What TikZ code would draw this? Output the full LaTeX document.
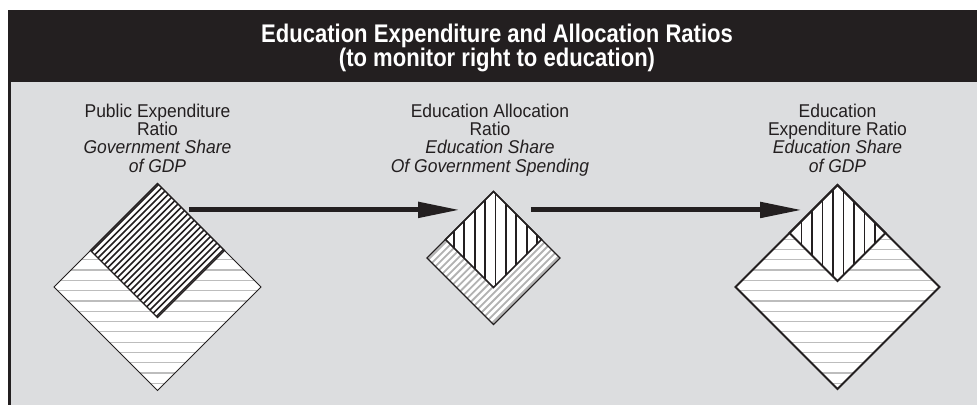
\documentclass[tikz,border=0pt]{standalone}
\usepackage{fontspec}
\setmainfont{Liberation Sans}
\newfontfamily\titlefont[FakeStretch=0.865]{Liberation Sans}
\newfontfamily\labelfont[FakeStretch=0.945]{Liberation Sans}
\usetikzlibrary{shapes.geometric, arrows.meta}
\definecolor{ink}{HTML}{231F20}
\definecolor{panel}{HTML}{DCDDDF}
\definecolor{hatchgrey}{HTML}{BDBDBD}
\definecolor{slantgrey}{HTML}{B2B2B2}

\begin{document}
\begin{tikzpicture}[x=1pt, y=-1pt,
        dia/.style={diamond, aspect=1, fill=white, inner sep=0pt, outer sep=0pt},
        heading/.style={text=white, align=center, anchor=north, inner sep=0pt,
            font=\titlefont\bfseries\fontsize{25.5pt}{24pt}\selectfont},
        ratio/.style={text=ink, align=center, anchor=north, inner sep=0pt,
            font=\labelfont\fontsize{18.5pt}{18.3pt}\selectfont},
        flow/.style={draw=ink, line width=5pt, -{Triangle[length=42pt, width=15pt]}},
        rule/.style={hatchgrey, line width=1.2pt},
        slant/.style={slantgrey, line width=1.8pt},
        stripe/.style={ink, line width=1.7pt}]
    \useasboundingbox (0,0) rectangle (977,405);

    % panel and title bar
    \fill[panel] (8,82) rectangle (977,405);
    \fill[ink] (8,10) rectangle (977,82);
    \draw[ink, line width=3pt] (9.5,82) -- (9.5,405);
    \node[heading] (title) at (497,23.6) {Education Expenditure and Allocation Ratios\\(to monitor right to education)};

    \node[ratio] (pubtext)   at (157.5,103.5) {Public Expenditure\\Ratio\\\textit{Government Share}\\\textit{of GDP}};
    \node[ratio] (alloctext) at (490,103.5)   {Education Allocation\\Ratio\\\textit{Education Share}\\\textit{Of Government Spending}};
    \node[ratio] (edutext)   at (837.5,103.5) {Education\\Expenditure Ratio\\\textit{Education Share}\\\textit{of GDP}};

    % public expenditure ratio
    \node[dia, minimum size=207pt] (pubout) at (157.5,287) {};
    \begin{scope}
        \clip (pubout.north) -- (pubout.east) -- (pubout.south) -- (pubout.west) -- cycle;
        \foreach \k in {0,...,15}
            \draw[rule] ([shift={(0,{10.3*\k-47.9})}]pubout.west) -- ++(207,0);
    \end{scope}
    \node[dia, minimum size=134pt] (pubin) at (157.5,250.5) {};
    \begin{scope}
        \clip (pubin.north) -- (pubin.east) -- (pubin.south) -- (pubin.west) -- cycle;
        \foreach \k in {-11,...,11}
            \draw[stripe] ([shift={({3.25*\k-60},{3.25*\k+60})}]pubin.center) -- ++(120,-120);
    \end{scope}
    \draw[ink, line width=1pt] (pubout.north) -- (pubout.east) -- (pubout.south) -- (pubout.west) -- cycle;
    \draw[ink, line width=1.3pt] (pubin.north) -- (pubin.east) -- (pubin.south) -- (pubin.west) -- cycle;

    % education allocation ratio
    \node[dia, minimum size=133pt] (allocout) at (493.5,258) {};
    \begin{scope}
        \clip (allocout.north) -- (allocout.east) -- (allocout.south) -- (allocout.west) -- cycle;
        \foreach \k in {-10,...,10}
            \draw[slant] ([shift={({3.54*\k-60},{3.54*\k+60})}]allocout.center) -- ++(120,-120);
    \end{scope}
    \node[dia, minimum size=96pt] (allocin) at (493.5,239.5) {};
    \begin{scope}
        \clip (allocin.north) -- (allocin.east) -- (allocin.south) -- (allocin.west) -- cycle;
        \foreach \k in {-4,...,4}
            \draw[stripe] ([xshift={2+10.4*\k}]allocin.north) -- ([xshift={2+10.4*\k}]allocin.south);
    \end{scope}
    \draw[ink, line width=1.2pt] (allocout.north) -- (allocout.east) -- (allocout.south) -- (allocout.west) -- cycle;
    \draw[ink, line width=1.5pt] (allocin.north) -- (allocin.east) -- (allocin.south) -- (allocin.west) -- cycle;

    % education expenditure ratio
    \node[dia, minimum size=204pt] (eduout) at (837.5,287) {};
    \begin{scope}
        \clip (eduout.north) -- (eduout.east) -- (eduout.south) -- (eduout.west) -- cycle;
        \foreach \k in {0,...,15}
            \draw[rule] ([shift={(0,{10.3*\k-47.9})}]eduout.west) -- ++(204,0);
    \end{scope}
    \node[dia, minimum size=96pt] (eduin) at (837.5,233) {};
    \begin{scope}
        \clip (eduin.north) -- (eduin.east) -- (eduin.south) -- (eduin.west) -- cycle;
        \foreach \k in {-3,...,4}
            \draw[stripe] ([xshift={-4.5+10.5*\k}]eduin.north) -- ([xshift={-4.5+10.5*\k}]eduin.south);
    \end{scope}
    \draw[ink, line width=2pt] (eduout.north) -- (eduout.east) -- (eduout.south) -- (eduout.west) -- cycle;
    \draw[ink, line width=2pt] (eduin.north) -- (eduin.east) -- (eduin.south) -- (eduin.west) -- cycle;

    \draw[flow, shorten <=5pt, shorten >=15pt] (pubin.57) -- (pubin.57 -| allocin.122);
    \draw[flow, shorten <=19pt, shorten >=10.5pt] (allocin.58) -- (allocin.58 -| eduin.137);
\end{tikzpicture}
\end{document}
